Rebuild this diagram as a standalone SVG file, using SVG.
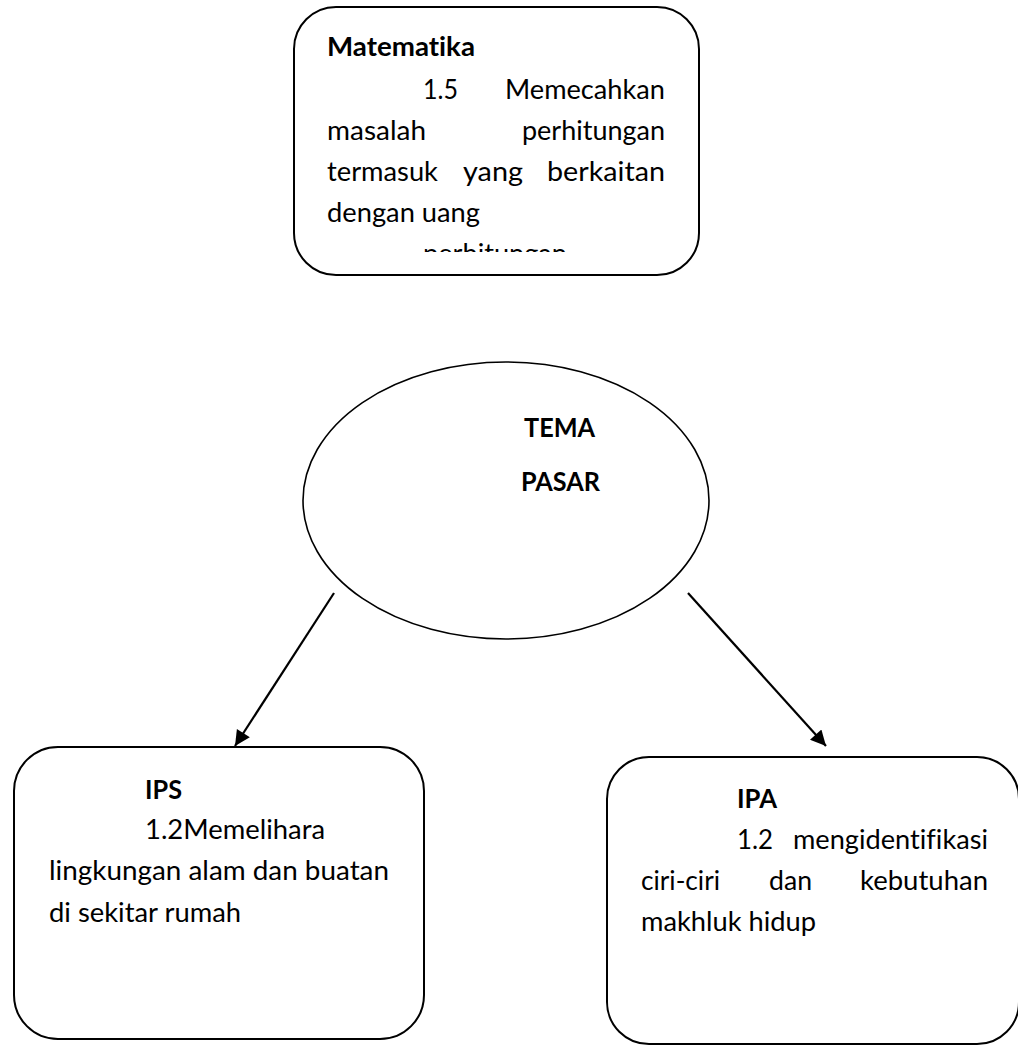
<svg xmlns="http://www.w3.org/2000/svg" width="1018" height="1046" viewBox="0 0 1018 1046">
<style>
.box{fill:#fff;stroke:#000;stroke-width:2}
.t{font-family:Lato,"Open Sans","Liberation Sans",sans-serif;font-size:27px;fill:#000;font-variant-ligatures:none;font-feature-settings:"liga" 0}
.b{font-weight:bold}
.conn{stroke:#000;stroke-width:2.2;fill:none}
</style>
<defs>
<marker id="ah" viewBox="0 0 10 10" refX="10" refY="5" markerWidth="8" markerHeight="7" markerUnits="strokeWidth" orient="auto">
<path d="M0,0 L10,5 L0,10 z" fill="#000"/>
</marker>
<clipPath id="clipTop"><rect x="295" y="8" width="403" height="244"/></clipPath>
</defs>
<g id="matematika">
<rect class="box" x="294" y="7" width="405" height="268" rx="42" ry="42"/>
<g clip-path="url(#clipTop)">
<text class="t b" x="327" y="56" textLength="148" lengthAdjust="spacingAndGlyphs">Matematika</text>
<text class="t" x="423" y="99" textLength="35" lengthAdjust="spacingAndGlyphs">1.5</text>
<text class="t" x="505" y="99" textLength="160" lengthAdjust="spacingAndGlyphs">Memecahkan</text>
<text class="t" x="327" y="140" textLength="99" lengthAdjust="spacingAndGlyphs">masalah</text>
<text class="t" x="522" y="140" textLength="143" lengthAdjust="spacingAndGlyphs">perhitungan</text>
<text class="t" x="327" y="181" textLength="111" lengthAdjust="spacingAndGlyphs">termasuk</text>
<text class="t" x="463" y="181" textLength="60" lengthAdjust="spacingAndGlyphs">yang</text>
<text class="t" x="547" y="181" textLength="118" lengthAdjust="spacingAndGlyphs">berkaitan</text>
<text class="t" x="327" y="222" textLength="153" lengthAdjust="spacingAndGlyphs">dengan uang</text>
<text class="t" x="423" y="263" textLength="144" lengthAdjust="spacingAndGlyphs">perhitungan</text>
</g>
</g>
<g id="tema">
<ellipse cx="506" cy="500.5" rx="203" ry="138.5" fill="#fff" stroke="#000" stroke-width="1.6"/>
<text class="t b" x="524" y="437" textLength="71" lengthAdjust="spacingAndGlyphs">TEMA</text>
<text class="t b" x="521" y="491" textLength="79" lengthAdjust="spacingAndGlyphs">PASAR</text>
</g>
<g id="connectors">
<line class="conn" x1="334" y1="593" x2="235" y2="746" marker-end="url(#ah)"/>
<line class="conn" x1="688" y1="593" x2="826" y2="746" marker-end="url(#ah)"/>
</g>
<g id="ips">
<rect class="box" x="14" y="747" width="410" height="292" rx="44" ry="44"/>
<text class="t b" x="145" y="799" textLength="37" lengthAdjust="spacingAndGlyphs">IPS</text>
<text class="t" x="145" y="839" textLength="180" lengthAdjust="spacingAndGlyphs">1.2Memelihara</text>
<text class="t" x="49" y="880" textLength="340" lengthAdjust="spacingAndGlyphs">lingkungan alam dan buatan</text>
<text class="t" x="49" y="922" textLength="192" lengthAdjust="spacingAndGlyphs">di sekitar rumah</text>
</g>
<g id="ipa">
<rect class="box" x="607" y="757" width="412" height="287" rx="42" ry="42"/>
<text class="t b" x="737" y="808" textLength="40" lengthAdjust="spacingAndGlyphs">IPA</text>
<text class="t" x="737" y="849" textLength="36" lengthAdjust="spacingAndGlyphs">1.2</text>
<text class="t" x="793" y="849" textLength="195" lengthAdjust="spacingAndGlyphs">mengidentifikasi</text>
<text class="t" x="641" y="890" textLength="79" lengthAdjust="spacingAndGlyphs">ciri-ciri</text>
<text class="t" x="769" y="890" textLength="43" lengthAdjust="spacingAndGlyphs">dan</text>
<text class="t" x="860" y="890" textLength="128" lengthAdjust="spacingAndGlyphs">kebutuhan</text>
<text class="t" x="641" y="931" textLength="175" lengthAdjust="spacingAndGlyphs">makhluk hidup</text>
</g>
</svg>
